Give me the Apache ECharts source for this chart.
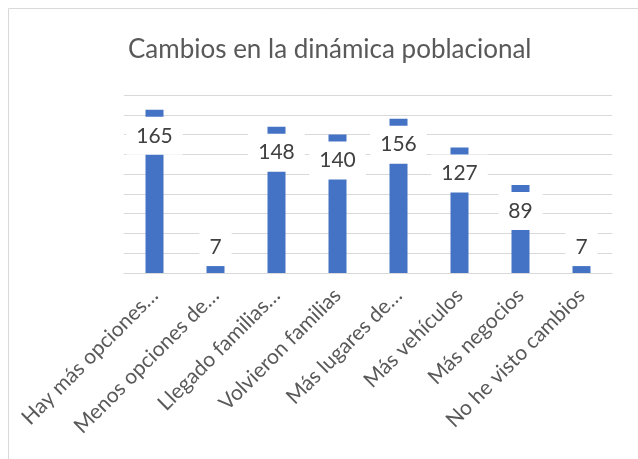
<!DOCTYPE html>
<html lang="es">
<head>
    <meta charset="UTF-8">
    <title>Cambios en la dinámica poblacional</title>
    <script src="https://cdn.jsdelivr.net/npm/echarts@6/dist/echarts.min.js"></script>
    <style>
        html, body { margin: 0; padding: 0; background: #fff; }
    </style>
</head>
<body>
<div id="main" style="width: 638px;height:459px;"></div>
<script>
    // datos
    var categorias = ['Hay más opciones…', 'Menos opciones de…', 'Llegado familias…', 'Volvieron familias',
        'Más lugares de…', 'Más vehículos', 'Más negocios', 'No he visto cambios'];
    var valores = [165, 7, 148, 140, 156, 127, 89, 7];

    var chart = echarts.init(document.getElementById('main'));

    // etiqueta dentro de la barra, encima si la barra es muy corta
    var datos = [];
    for (var i = 0; i < valores.length; i++) {
        var d = { value: valores[i] };
        if (valores[i] < 30) {
            d.label = { position: 'top', distance: 0 };
        }
        datos.push(d);
    }

    var option = {
        animation: false,
        textStyle: { fontFamily: 'Lato' },
        graphic: [{
            type: 'rect',
            shape: { x: 8.5, y: 8.5, width: 700, height: 600 },
            style: { fill: 'none', stroke: '#d9d9d9', lineWidth: 1 },
            silent: true
        }],
        title: {
            text: 'Cambios en la dinámica poblacional',
            left: 123,
            top: 32,
            textStyle: { fontFamily: 'Lato', fontSize: 26, fontWeight: 'normal', color: '#595959' }
        },
        grid: { left: 124, right: 26, top: 95, bottom: 186 },
        xAxis: {
            type: 'category',
            data: categorias,
            axisTick: { show: false },
            axisLine: { lineStyle: { color: '#d9d9d9', width: 1 } },
            axisLabel: { rotate: 45, interval: 0, fontSize: 21, color: '#595959', margin: 19 }
        },
        yAxis: {
            type: 'value',
            min: 0,
            max: 180,
            interval: 20,
            axisLabel: { show: false },
            axisLine: { show: false },
            axisTick: { show: false },
            splitLine: { lineStyle: { color: '#d9d9d9', width: 1 } }
        },
        series: [{
            type: 'bar',
            data: datos,
            barWidth: 18,
            itemStyle: { color: '#4472C4' },
            label: {
                show: true,
                position: 'insideTop',
                distance: 7,
                fontSize: 21,
                lineHeight: 24,
                color: '#404040',
                backgroundColor: '#ffffff',
                padding: [7, 10]
            }
        }]
    };
    chart.setOption(option);
</script>
</body>
</html>
